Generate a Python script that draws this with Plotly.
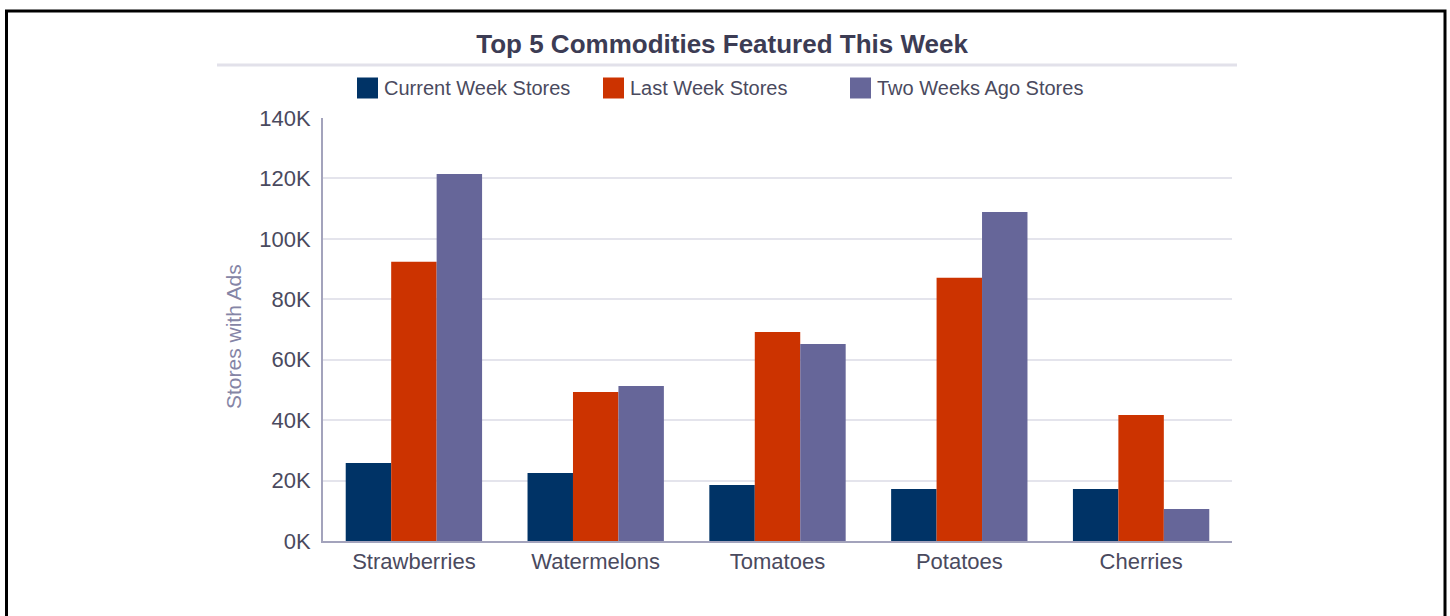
import plotly.graph_objects as go

categories = ["Strawberries", "Watermelons", "Tomatoes", "Potatoes", "Cherries"]
series_names = ["Current Week Stores", "Last Week Stores", "Two Weeks Ago Stores"]
current_week = [25800, 22500, 18500, 17200, 17200]
last_week = [92400, 49300, 69200, 87100, 41700]
two_weeks_ago = [121500, 51300, 65200, 108900, 10600]
series_values = [current_week, last_week, two_weeks_ago]
colors = ["#003366", "#CC3300", "#666699"]
y_tickvals = [0, 20000, 40000, 60000, 80000, 100000, 120000, 140000]
y_ticktext = ["0K", "20K", "40K", "60K", "80K", "100K", "120K", "140K"]

W, H = 1450, 616
ML, MR, MT, MB = 323, 218, 118, 75
PW, PH = W - ML - MR, H - MT - MB

def px(x):
    return (x - ML) / PW

def py(y):
    return (H - MB - y) / PH

FONT = "Liberation Sans, Arial, sans-serif"

fig = go.Figure()
for name, vals, col in zip(series_names, series_values, colors):
    fig.add_trace(go.Bar(name=name, x=categories, y=vals, marker_color=col,
                         marker_line_width=0, showlegend=False))

shapes = []
annotations = []
# outer frame
shapes.append(dict(type="rect", xref="paper", yref="paper",
                   x0=px(6.5), x1=px(1445), y0=py(640), y1=py(11),
                   line=dict(color="#000000", width=3), fillcolor="rgba(0,0,0,0)", layer="above"))
# title separator
shapes.append(dict(type="line", xref="paper", yref="paper",
                   x0=px(217), x1=px(1237), y0=py(65), y1=py(65),
                   line=dict(color="#e2e1ea", width=3)))
# manual legend
legend_x = [357, 603, 850]
for name, col, lx in zip(series_names, colors, legend_x):
    shapes.append(dict(type="rect", xref="paper", yref="paper",
                       x0=px(lx), x1=px(lx + 21), y0=py(98.5), y1=py(77.5),
                       line=dict(width=0), fillcolor=col))
    annotations.append(dict(text=name, xref="paper", yref="paper",
                            x=px(lx + 25), y=py(88), xanchor="left", yanchor="middle",
                            showarrow=False, font=dict(family=FONT, size=20, color="#4a4a5e")))
# y axis title
annotations.append(dict(text="Stores with Ads", xref="paper", yref="paper",
                        x=px(233), y=py(337), xanchor="center", yanchor="middle",
                        textangle=-90, showarrow=False,
                        font=dict(family=FONT, size=21, color="#8585a6")))

fig.update_layout(
    width=W, height=H,
    margin=dict(l=ML, r=MR, t=MT, b=MB, pad=0),
    paper_bgcolor="white", plot_bgcolor="white",
    title=dict(text="<b>Top 5 Commodities Featured This Week</b>", x=0.498, xref="container",
               xanchor="center", y=1 - 43.5 / H, yref="container", yanchor="middle",
               font=dict(family=FONT, size=26, color="#3c3c54")),
    barmode="group", bargap=0.25, bargroupgap=0,
    shapes=shapes, annotations=annotations,
    showlegend=False,
    font=dict(family=FONT),
    xaxis=dict(showline=True, linecolor="#a3a3bc", linewidth=2, showgrid=False,
               ticks="", tickfont=dict(family=FONT, size=22, color="#4a4a5e")),
    yaxis=dict(range=[0, 140000], tickvals=y_tickvals, ticktext=y_ticktext,
               showline=True, linecolor="#a3a3bc", linewidth=2,
               showgrid=True, gridcolor="#e4e4ec", gridwidth=2, zeroline=False,
               ticks="", ticklabelstandoff=6,
               tickfont=dict(family=FONT, size=22, color="#4a4a5e")),
)

fig.write_html("out.html", config={"displayModeBar": False},
               post_script="document.body.style.margin='0';document.body.style.overflow='hidden';")
